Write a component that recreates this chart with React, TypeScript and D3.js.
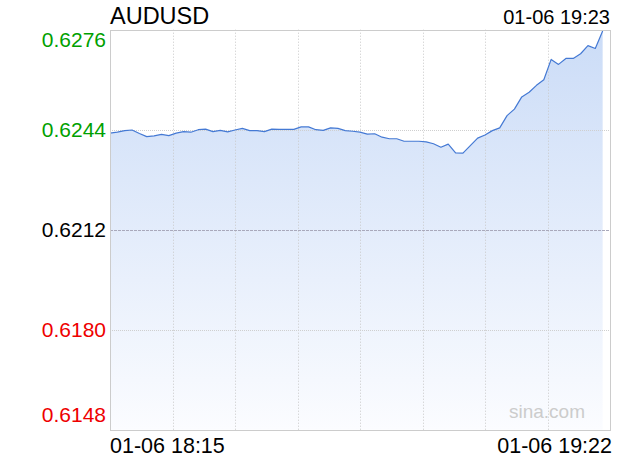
import React, { useEffect, useRef } from 'react';
import * as d3 from 'd3';

// AUDUSD intraday, one point per minute
const symbol = 'AUDUSD';
const updatedAt = '01-06 19:23';
const timeLabels = ['01-06 18:15', '01-06 19:22'];
const priceTicks = [0.6276, 0.6244, 0.6212, 0.618, 0.6148];
const prevClose = 0.6212;
const slots = 68;
const prices = [
  0.62429, 0.62432, 0.62437, 0.62439, 0.62428, 0.62418, 0.6242, 0.62425, 0.62421, 0.62429,
  0.62434, 0.62432, 0.6244, 0.62442, 0.62434, 0.62438, 0.62433, 0.62439, 0.62444, 0.62437,
  0.62437, 0.62434, 0.62442, 0.62441, 0.62441, 0.62441, 0.62449, 0.62449, 0.6244, 0.62438,
  0.62446, 0.62444, 0.62437, 0.62435, 0.62432, 0.62426, 0.62427, 0.62416, 0.62411, 0.62411,
  0.62403, 0.62403, 0.62403, 0.62401, 0.62395, 0.62384, 0.62394, 0.62366, 0.62365, 0.62389,
  0.62413, 0.62423, 0.62437, 0.62446, 0.62485, 0.62506, 0.62545, 0.6256, 0.62582, 0.626,
  0.62665, 0.62649, 0.62668, 0.62668, 0.62683, 0.62709, 0.627, 0.62756,
];

const App = () => {
  const svgRef = useRef<SVGSVGElement>(null);

  useEffect(() => {
    const font = 'Liberation Sans, Arial, sans-serif';
    const left = 110;
    const right = 610;
    const top = 29.7;
    const bottom = 429.7;

    const svg = d3.select(svgRef.current);
    svg.selectAll('*').remove();

    const x = d3.scaleLinear().domain([0, slots]).range([left, right]);
    const y = d3
      .scaleLinear()
      .domain([priceTicks[priceTicks.length - 1], priceTicks[0]])
      .range([bottom, top]);

    // gradient for the area
    const grad = svg
      .append('defs')
      .append('linearGradient')
      .attr('id', 'areaFill')
      .attr('gradientUnits', 'userSpaceOnUse')
      .attr('x1', 0)
      .attr('y1', top)
      .attr('x2', 0)
      .attr('y2', bottom);
    grad.append('stop').attr('offset', '0%').attr('stop-color', '#cbdcf7');
    grad.append('stop').attr('offset', '100%').attr('stop-color', '#fbfcff');

    // area + line
    const area = d3
      .area<number>()
      .x((d, i) => x(i))
      .y0(bottom)
      .y1((d) => y(d));
    svg.append('path').datum(prices).attr('d', area).attr('fill', 'url(#areaFill)');

    // vertical grid
    const vTicks = d3.range(1, 8).map((k) => (slots / 8) * k);
    svg
      .selectAll('line.vgrid')
      .data(vTicks)
      .enter()
      .append('line')
      .attr('class', 'vgrid')
      .attr('x1', (d) => Math.round(x(d)) + 0.5)
      .attr('x2', (d) => Math.round(x(d)) + 0.5)
      .attr('y1', top)
      .attr('y2', bottom)
      .attr('stroke', '#c8c8c8')
      .attr('stroke-dasharray', '1,2');

    // horizontal grid (inner ticks only)
    svg
      .selectAll('line.hgrid')
      .data(priceTicks.slice(1, -1))
      .enter()
      .append('line')
      .attr('class', 'hgrid')
      .attr('x1', left)
      .attr('x2', right)
      .attr('y1', (d) => Math.round(y(d)) + 0.5)
      .attr('y2', (d) => Math.round(y(d)) + 0.5)
      .attr('stroke', (d) => (d === prevClose ? '#a9a9bb' : '#cfcfcf'))
      .attr('stroke-dasharray', (d) => (d === prevClose ? '3,1' : '1,1'));

    const line = d3
      .line<number>()
      .x((d, i) => x(i))
      .y((d) => y(d));
    svg
      .append('path')
      .datum(prices)
      .attr('d', line)
      .attr('fill', 'none')
      .attr('stroke', '#4479d4')
      .attr('stroke-width', 1.2)
      .attr('stroke-linejoin', 'round');

    // frame
    svg
      .append('rect')
      .attr('x', left + 0.5)
      .attr('y', Math.round(top) + 0.5)
      .attr('width', right - left)
      .attr('height', Math.round(bottom) - Math.round(top))
      .attr('fill', 'none')
      .attr('stroke', '#cccccc');

    // watermark
    svg
      .append('text')
      .attr('x', 585)
      .attr('y', 418)
      .attr('text-anchor', 'end')
      .attr('font-family', font)
      .attr('font-size', 19)
      .attr('fill', '#cccccc')
      .text('sina.com');

    // price labels
    const last = priceTicks.length - 1;
    svg
      .selectAll('text.price')
      .data(priceTicks)
      .enter()
      .append('text')
      .attr('class', 'price')
      .attr('x', 106)
      .attr('y', (d, i) => (i === 0 ? y(d) + 17 : i === last ? y(d) - 8 : y(d) + 7.5))
      .attr('text-anchor', 'end')
      .attr('font-family', font)
      .attr('font-size', 21)
      .attr('fill', (d) => (d > prevClose ? '#00a000' : d < prevClose ? '#ee0000' : '#000'))
      .text((d) => d.toFixed(4));

    // title and time stamp
    svg
      .append('text')
      .attr('x', left)
      .attr('y', 24)
      .attr('font-family', font)
      .attr('font-size', 23.5)
      .text(symbol);
    svg
      .append('text')
      .attr('x', right)
      .attr('y', 24)
      .attr('text-anchor', 'end')
      .attr('font-family', font)
      .attr('font-size', 20)
      .text(updatedAt);

    // time labels
    svg
      .selectAll('text.time')
      .data(timeLabels)
      .enter()
      .append('text')
      .attr('class', 'time')
      .attr('x', (d, i) => (i === 0 ? left : right + 2))
      .attr('y', 453)
      .attr('text-anchor', (d, i) => (i === 0 ? 'start' : 'end'))
      .attr('font-family', font)
      .attr('font-size', 21.5)
      .text((d) => d);
  }, []);

  return (
    <svg
      ref={svgRef}
      width={620}
      height={460}
      style={{ position: 'absolute', left: 0, top: 0, background: '#fff' }}
    />
  );
};

export default App;
